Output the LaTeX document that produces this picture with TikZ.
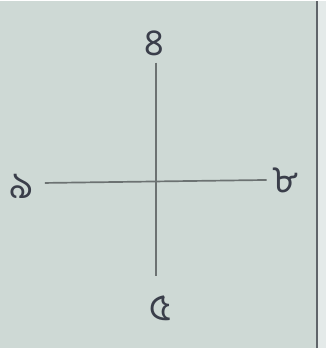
\documentclass[tikz,border=0pt]{standalone}
\usepackage{fontspec}
\newfontfamily\bnf[Script=Bengali]{Hind Siliguri}
\definecolor{paper}{RGB}{206,217,213}
\definecolor{paperlight}{RGB}{228,234,233}
\definecolor{axis}{RGB}{108,114,114}
\definecolor{ink}{RGB}{58,62,74}
\definecolor{edge}{RGB}{95,100,105}
\begin{document}
\begin{tikzpicture}[x=1pt,y=1pt,
  lbl/.style={font=\fontsize{38}{40}\bnf, text=ink, inner sep=0pt},
  axisline/.style={draw=axis, line width=1.7pt}]
\fill[paper] (0,0) rectangle (328,349);
\fill[paperlight] (320,0) rectangle (328,349);
\draw[edge, line width=1.8pt] (319,0) -- (319,349);
\useasboundingbox (0,0) rectangle (328,349);
% axis end points
\coordinate (vt) at (157,287);
\coordinate (vb) at (157,72);
\coordinate (hl) at (45,166);
\coordinate (hr) at (268,169);
\draw[axisline] (vt) -- (vb);
\draw[axisline] (hl) -- (hr);
% labels
\node[lbl] (top) at (155,306) {৪};
\node[lbl] (left) at (22,163) {৯};
\node[lbl] (right) at (287,169) {৮};
\node[lbl] (bottom) at (161,40) {৫};
\end{tikzpicture}
\end{document}
